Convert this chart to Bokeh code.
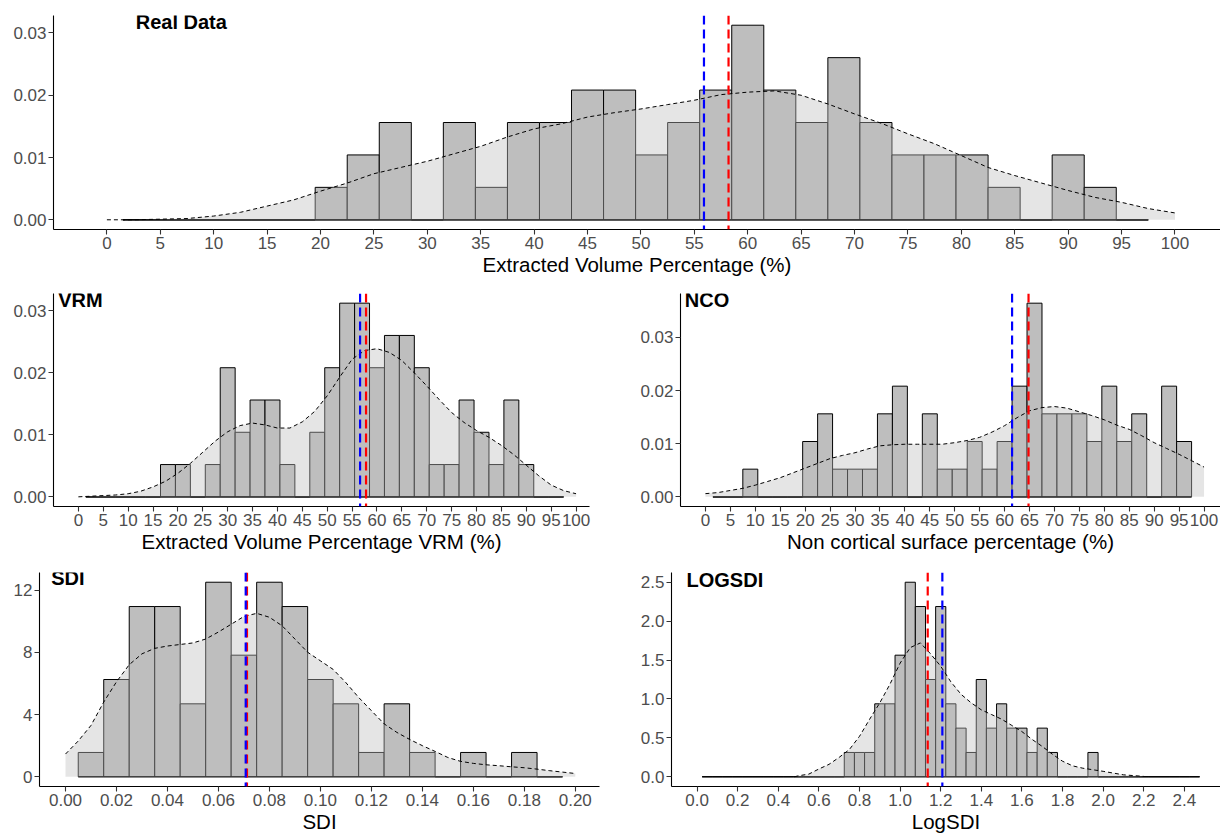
import numpy as np
from bokeh.plotting import figure
from bokeh.models import Range1d, FixedTicker, Span, Label, PrintfTickFormatter
from bokeh.layouts import column, row
from bokeh.embed import file_html
from bokeh.resources import INLINE

FONT = "Liberation Sans"
N_OBS = 64

# ---------------- Real Data ----------------
real_bin_start = 1.5
real_bin_width = 3.0
real_counts = [0, 0, 0, 0, 0, 0, 1, 2, 3, 0, 3, 1, 3, 3, 4, 4,
               2, 3, 4, 6, 4, 3, 5, 3, 2, 2, 2, 1, 0, 2, 1, 0]
real_dens_x = [0, 2.5, 5, 7.5, 10, 12.5, 15, 17.5, 20, 22.5, 25, 27.5, 30, 32.5, 35, 37.5,
               40, 42.5, 45, 47.5, 50, 52.5, 55, 57.5, 60, 62.5, 65, 67.5, 70, 72.5, 75,
               77.5, 80, 82.5, 85, 87.5, 90, 92.5, 95, 97.5, 100]
real_dens_y = [0.0000, 0.0000, 0.0001, 0.0002, 0.0006, 0.0012, 0.0022, 0.0032, 0.0046, 0.0059,
               0.0074, 0.0084, 0.0094, 0.0106, 0.0118, 0.0133, 0.0146, 0.0154, 0.0165, 0.0172,
               0.0178, 0.0185, 0.0192, 0.0201, 0.0205, 0.0207, 0.0200, 0.0186, 0.0170, 0.0155,
               0.0138, 0.0122, 0.0103, 0.0084, 0.0071, 0.0059, 0.0047, 0.0036, 0.0028, 0.0018,
               0.0011]
real_blue = 55.9
real_red = 58.2
real_xticks = list(range(0, 101, 5))
real_yticks = [0.0, 0.01, 0.02, 0.03]

# ---------------- VRM ----------------
vrm_bin_start = 1.5
vrm_bin_width = 3.0
vrm_counts = [0, 0, 0, 0, 0, 1, 1, 0, 1, 4, 2, 3, 3, 1, 0, 2,
              4, 6, 6, 4, 5, 5, 4, 1, 1, 3, 2, 1, 3, 1, 0, 0]
vrm_dens_x = real_dens_x
vrm_dens_y = [0.0000, 0.0001, 0.0002, 0.0003, 0.0005, 0.0009, 0.0016, 0.0025, 0.0038, 0.0054,
              0.0072, 0.0090, 0.0105, 0.0115, 0.0119, 0.0116, 0.0111, 0.0111, 0.0121, 0.0138,
              0.0163, 0.0193, 0.0222, 0.0236, 0.0239, 0.0233, 0.0220, 0.0200, 0.0179, 0.0157,
              0.0136, 0.0120, 0.0107, 0.0096, 0.0083, 0.0068, 0.0051, 0.0034, 0.0019, 0.0010,
              0.0005]
vrm_blue = 56.6
vrm_red = 57.8

# ---------------- NCO ----------------
nco_bin_start = 1.5
nco_bin_width = 3.0
nco_counts = [0, 0, 1, 0, 0, 0, 2, 3, 1, 1, 1, 3, 4, 0, 3, 1,
              1, 2, 1, 2, 4, 7, 3, 3, 3, 2, 4, 2, 3, 0, 4, 2]
nco_dens_x = real_dens_x
nco_dens_y = [0.0006, 0.0008, 0.0012, 0.0016, 0.0022, 0.0029, 0.0036, 0.0045, 0.0054, 0.0063,
              0.0072, 0.0078, 0.0083, 0.0090, 0.0096, 0.0098, 0.0099, 0.0099, 0.0099, 0.0099,
              0.0102, 0.0106, 0.0112, 0.0122, 0.0134, 0.0149, 0.0162, 0.0168, 0.0170, 0.0167,
              0.0160, 0.0153, 0.0145, 0.0135, 0.0127, 0.0115, 0.0102, 0.0091, 0.0080, 0.0068,
              0.0056]
nco_blue = 61.5
nco_red = 64.8

# ---------------- SDI ----------------
sdi_bin_start = 0.005
sdi_bin_width = 0.01
sdi_counts = [1, 4, 7, 7, 3, 8, 5, 8, 7, 4, 3, 1, 3, 1, 0, 1, 0, 1, 0]
sdi_dens_x = [0.000, 0.005, 0.010, 0.015, 0.020, 0.025, 0.030, 0.035, 0.040, 0.045, 0.050,
              0.055, 0.060, 0.065, 0.070, 0.075, 0.080, 0.085, 0.090, 0.095, 0.100, 0.105,
              0.110, 0.115, 0.120, 0.125, 0.130, 0.135, 0.140, 0.145, 0.150, 0.155, 0.160,
              0.165, 0.170, 0.175, 0.180, 0.185, 0.190, 0.195, 0.200]
sdi_dens_y = [1.46, 2.3, 3.3, 4.8, 6.1, 7.2, 7.9, 8.25, 8.4, 8.5, 8.6, 8.85, 9.3, 9.8, 10.3,
              10.5, 10.25, 9.7, 8.85, 8.0, 7.45, 6.9, 6.05, 5.1, 4.25, 3.4, 2.85, 2.4, 2.0,
              1.63, 1.24, 0.99, 0.86, 0.77, 0.71, 0.64, 0.58, 0.49, 0.39, 0.30, 0.21]
sdi_blue = 0.0707
sdi_red = 0.0712
sdi_xticks = [0.00, 0.02, 0.04, 0.06, 0.08, 0.10, 0.12, 0.14, 0.16, 0.18, 0.20]
sdi_yticks = [0, 4, 8, 12]

# ---------------- LOGSDI ----------------
log_bin_start = 0.025
log_bin_width = 0.05
log_counts = [0] * 14 + [1, 1, 1, 3, 3, 5, 8, 7, 4, 7, 3, 2, 1, 4, 2, 3, 2, 2, 1, 2, 1] \
             + [0, 0, 0, 1] + [0] * 10
log_dens_x = [0.48, 0.50, 0.55, 0.60, 0.65, 0.70, 0.75, 0.80, 0.85, 0.90, 0.95, 1.00, 1.05,
              1.10, 1.15, 1.20, 1.25, 1.30, 1.35, 1.40, 1.45, 1.50, 1.55, 1.60, 1.65, 1.70,
              1.75, 1.80, 1.85, 1.90, 2.00, 2.10, 2.20]
log_dens_y = [0.0, 0.013, 0.034, 0.10, 0.16, 0.25, 0.35, 0.52, 0.74, 0.95, 1.19, 1.46, 1.66,
              1.72, 1.58, 1.42, 1.22, 1.06, 0.95, 0.86, 0.80, 0.74, 0.66, 0.58, 0.48, 0.39,
              0.29, 0.20, 0.14, 0.11, 0.07, 0.025, 0.005]
log_blue = 1.208
log_red = 1.136
log_xticks = [0.0, 0.2, 0.4, 0.6, 0.8, 1.0, 1.2, 1.4, 1.6, 1.8, 2.0, 2.2, 2.4]
log_yticks = [0.0, 0.5, 1.0, 1.5, 2.0, 2.5]


def make_panel(width, height, borders, xr, yr, bin_start, bin_width, counts,
               dens_x, dens_y, blue_x, red_x, xticks, xfmt, yticks, yfmt,
               xtitle, name, name_xy):
    bl, br, bt, bb = borders
    p = figure(width=width, height=height, x_range=Range1d(*xr), y_range=Range1d(*yr),
               output_backend="svg", toolbar_location=None, tools="",
               min_border_left=bl, min_border_right=br,
               min_border_top=bt, min_border_bottom=bb)
    p.xgrid.visible = False
    p.ygrid.visible = False
    p.outline_line_color = None
    p.background_fill_color = "white"
    p.border_fill_color = "white"

    counts = np.asarray(counts, dtype=float)
    edges = bin_start + bin_width * np.arange(len(counts) + 1)
    dens = counts / (N_OBS * bin_width)
    p.quad(left=edges[:-1], right=edges[1:], bottom=0, top=dens,
           fill_color="#bebebe", line_color="black", line_width=1)
    p.segment(x0=[edges[0]], y0=[0], x1=[edges[-1]], y1=[0],
              line_color="black", line_width=1.2)
    p.varea(x=dens_x, y1=[0] * len(dens_x), y2=dens_y,
            fill_color="#bebebe", fill_alpha=0.4)
    p.line(dens_x, dens_y, line_color="black", line_width=1, line_dash="4 3")

    p.add_layout(Span(location=red_x, dimension="height", line_color="red",
                      line_width=2.2, line_dash="9 5"))
    p.add_layout(Span(location=blue_x, dimension="height", line_color="blue",
                      line_width=2.2, line_dash="9 5"))

    p.add_layout(Label(x=name_xy[0], y=name_xy[1], text=name, text_font=FONT,
                       text_font_size="20px", text_font_style="bold",
                       text_color="black", text_align="left", text_baseline="middle"))

    for ax, ticks, fmt in ((p.xaxis[0], xticks, xfmt), (p.yaxis[0], yticks, yfmt)):
        ax.ticker = FixedTicker(ticks=ticks)
        ax.formatter = PrintfTickFormatter(format=fmt)
        ax.axis_line_color = "black"
        ax.axis_line_width = 1.1
        ax.major_tick_line_color = "#333333"
        ax.major_tick_line_width = 1.1
        ax.major_tick_out = 5
        ax.major_tick_in = 0
        ax.minor_tick_line_color = None
        ax.major_label_text_font = FONT
        ax.major_label_text_font_size = "17px"
        ax.major_label_text_color = "#4d4d4d"
        ax.major_label_standoff = 2
    p.xaxis.axis_label = xtitle
    p.xaxis.axis_label_text_font = FONT
    p.xaxis.axis_label_text_font_size = "20.5px"
    p.xaxis.axis_label_text_font_style = "normal"
    p.xaxis.axis_label_text_color = "black"
    p.xaxis.axis_label_standoff = 1
    return p


p_real = make_panel(1220, 280, (53, 0, 15, 51), (-5.0, 104.26), (-0.00156, 0.03281),
                    real_bin_start, real_bin_width, real_counts, real_dens_x, real_dens_y,
                    real_blue, real_red, real_xticks, "%d", real_yticks, "%.2f",
                    "Extracted Volume Percentage (%)", "Real Data", (2.7, 0.0318))

p_vrm = make_panel(610, 275, (53, 21, 13, 47), (-5.0, 102.7), (-0.00156, 0.03281),
                   vrm_bin_start, vrm_bin_width, vrm_counts, vrm_dens_x, vrm_dens_y,
                   vrm_blue, vrm_red, real_xticks, "%d", real_yticks, "%.2f",
                   "Extracted Volume Percentage VRM (%)", "VRM", (-4.06, 0.03175))

p_nco = make_panel(610, 275, (70, 0, 13, 47), (-5.0, 103.3), (-0.00182, 0.03828),
                   nco_bin_start, nco_bin_width, nco_counts, nco_dens_x, nco_dens_y,
                   nco_blue, nco_red, real_xticks, "%d", real_yticks, "%.2f",
                   "Non cortical surface percentage (%)", "NCO", (-4.13, 0.0370))

p_sdi = make_panel(610, 280, (39, 11, 17, 48), (-0.0102, 0.2095), (-0.625, 13.125),
                   sdi_bin_start, sdi_bin_width, sdi_counts, sdi_dens_x, sdi_dens_y,
                   sdi_blue, sdi_red, sdi_xticks, "%.2f", sdi_yticks, "%d",
                   "SDI", "SDI", (-0.0056, 12.74))

p_log = make_panel(610, 280, (61, 0, 17, 48), (-0.126, 2.578), (-0.125, 2.625),
                   log_bin_start, log_bin_width, log_counts, log_dens_x, log_dens_y,
                   log_blue, log_red, log_xticks, "%.1f", log_yticks, "%.1f",
                   "LogSDI", "LOGSDI", (-0.052, 2.53))

layout = column(p_real, row(p_vrm, p_nco), row(p_sdi, p_log))
open("out.html", "w").write(file_html(layout, INLINE))
